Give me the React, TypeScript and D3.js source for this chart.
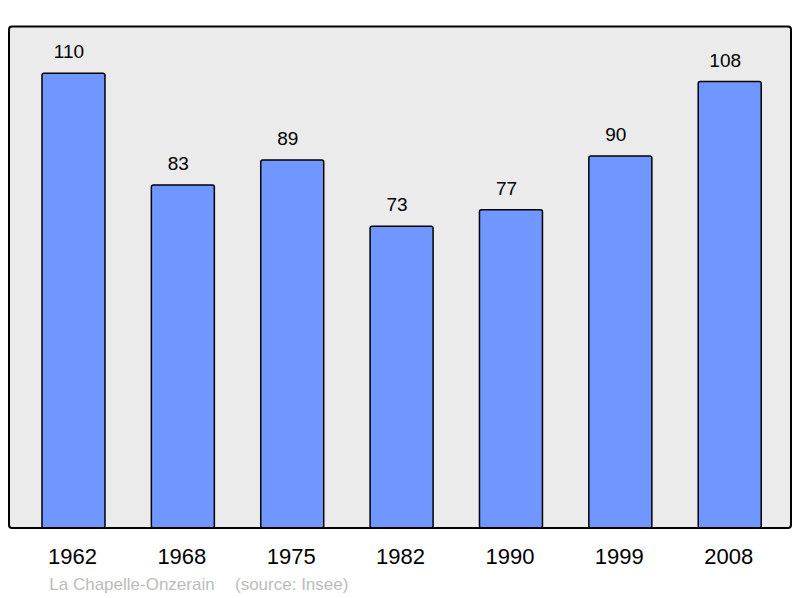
import React from "react";
import * as d3 from "d3";

const years = ["1962", "1968", "1975", "1982", "1990", "1999", "2008"];
const population = [110, 83, 89, 73, 77, 90, 108];
const sourceLabel = "La Chapelle-Onzerain";
const sourceNote = "(source: Insee)";

export default function App() {
  const W = 800;
  const H = 598;
  const frame = { x0: 9, y0: 26.5, x1: 791, y1: 528 };

  const x = d3
    .scaleBand<string>()
    .domain(years)
    .range([18.8, 784.4])
    .paddingInner(0.424)
    .paddingOuter(0.212);

  const y = d3.scaleLinear().domain([0, 110]).range([528, 73.3]);

  const font = "'Liberation Sans', Arial, sans-serif";

  return (
    <svg
      width={W}
      height={H}
      style={{ position: "absolute", left: 0, top: 0, display: "block" }}
    >
      <rect x={0} y={0} width={W} height={H} fill="#ffffff" />
      <rect
        x={frame.x0}
        y={frame.y0}
        width={frame.x1 - frame.x0}
        height={frame.y1 - frame.y0}
        rx={3}
        fill="#ebebeb"
        stroke="none"
      />
      {years.map((yr, i) => {
        const bx = x(yr)!;
        const bw = x.bandwidth();
        const by = y(population[i]);
        return (
          <g key={yr}>
            <rect
              x={bx}
              y={by}
              width={bw}
              height={y(0) - by}
              rx={2}
              fill="#7096ff"
              stroke="#000"
              strokeWidth={1.5}
            />
            <text
              x={bx + bw / 2 - 4.5}
              y={by - 15}
              textAnchor="middle"
              fontFamily={font}
              fontSize={19}
              fill="#000"
            >
              {population[i]}
            </text>
            <text
              x={bx + bw / 2 - 1}
              y={564.3}
              textAnchor="middle"
              fontFamily={font}
              fontSize={22}
              fill="#000"
            >
              {yr}
            </text>
          </g>
        );
      })}
      <rect
        x={frame.x0}
        y={frame.y0}
        width={frame.x1 - frame.x0}
        height={frame.y1 - frame.y0}
        rx={3}
        fill="none"
        stroke="#000"
        strokeWidth={2}
      />
      <text x={49.3} y={590} fontFamily={font} fontSize={17} fill="#bbbbbb">
        {sourceLabel}
      </text>
      <text x={235} y={590} fontFamily={font} fontSize={17} fill="#bbbbbb">
        {sourceNote}
      </text>
    </svg>
  );
}
